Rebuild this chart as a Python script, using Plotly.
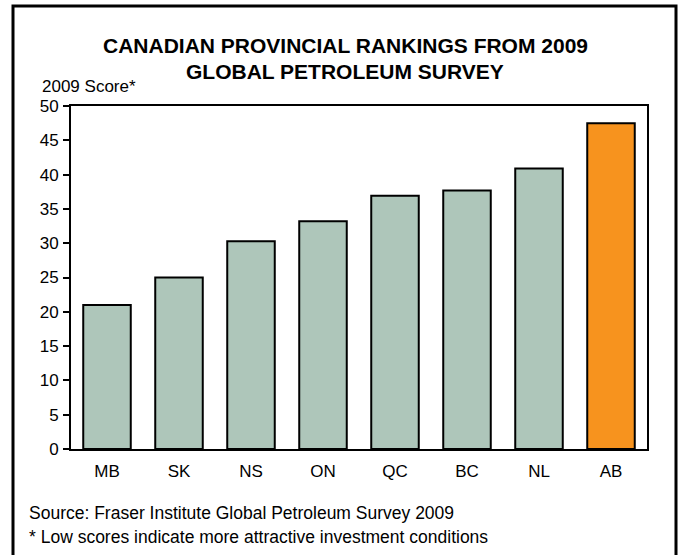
import plotly.graph_objects as go

provinces = ["MB", "SK", "NS", "ON", "QC", "BC", "NL", "AB"]
scores = [21.0, 25.0, 30.3, 33.2, 36.9, 37.7, 40.9, 47.5]
bar_colors = ["#AEC6BA"] * 7 + ["#F7931E"]
y_ticks = [0, 5, 10, 15, 20, 25, 30, 35, 40, 45, 50]

W, H = 679, 555
L, R, T, B = 71, 647, 106, 449
pw, ph = R - L, B - T

def px(x):
    return (x - L) / pw

def py(y):
    return (B - y) / ph

FONT = "Liberation Sans, Arial, sans-serif"
FS = 17

fig = go.Figure(go.Bar(
    x=provinces, y=scores,
    marker=dict(color=bar_colors, line=dict(color="#000000", width=2)),
    width=0.66,
))

fig.update_layout(
    width=W, height=H,
    margin=dict(l=L, r=W - R, t=T, b=H - B),
    paper_bgcolor="white", plot_bgcolor="white",
    font=dict(family=FONT, size=FS, color="#000000"),
    showlegend=False,
    xaxis=dict(showline=True, linecolor="#000000", linewidth=2, mirror=True,
               ticks="", showgrid=False, tickfont=dict(size=FS), ticklabelstandoff=6),
    yaxis=dict(range=[0, 50], tickvals=y_ticks, showline=True, linecolor="#000000",
               linewidth=2, mirror=True, ticks="outside", ticklen=6, tickwidth=2,
               tickcolor="#000000", showgrid=False, zeroline=False,
               tickfont=dict(size=FS), ticklabelstandoff=1),
    shapes=[dict(type="rect", xref="paper", yref="paper",
                 x0=px(13), x1=px(676), y0=py(6), y1=py(575),
                 line=dict(color="#000000", width=3), fillcolor="rgba(0,0,0,0)")],
    annotations=[
        dict(text="<b>CANADIAN PROVINCIAL RANKINGS FROM 2009</b>", xref="paper", yref="paper",
             x=px(345), y=py(45), showarrow=False, font=dict(size=21), xanchor="center", yanchor="middle"),
        dict(text="<b>GLOBAL PETROLEUM SURVEY</b>", xref="paper", yref="paper",
             x=px(345), y=py(71), showarrow=False, font=dict(size=21), xanchor="center", yanchor="middle"),
        dict(text="2009 Score*", xref="paper", yref="paper",
             x=px(40), y=py(87), showarrow=False, font=dict(size=FS), xanchor="left", yanchor="middle"),
        dict(text="Source: Fraser Institute Global Petroleum Survey 2009", xref="paper", yref="paper",
             x=px(27), y=py(513), showarrow=False, font=dict(size=17.5), xanchor="left", yanchor="middle"),
        dict(text="* Low scores indicate more attractive investment conditions", xref="paper", yref="paper",
             x=px(27), y=py(537), showarrow=False, font=dict(size=17.5), xanchor="left", yanchor="middle"),
    ],
)

fig.write_html("out.html")
